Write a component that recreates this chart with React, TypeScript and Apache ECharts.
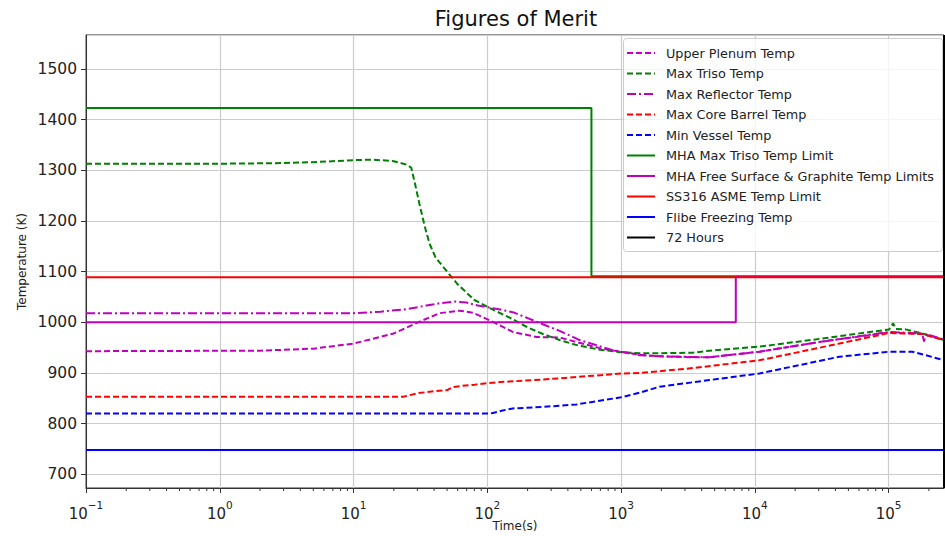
import React, { useEffect, useRef } from "react";
import * as echarts from "echarts";

const T_MIN = 0.1;
const T_MAX = 259200;
const Y_MIN = 673;
const Y_MAX = 1567;

const upperPlenum = [[0.1,943],[2,944],[5,948],[10,958],[20,978],[31,1001],[44,1018],[62,1023],[78,1019],[110,1001],[155,981],[234,971],[347,970],[690,949],[1000,942],[1373,936],[1938,933],[3245,931],[4570,931],[10800,942],[31900,962],[100900,980],[178000,977],[259200,965]];
const maxTriso = [[0.1,1313],[1,1313],[2.5,1314],[5,1316],[10,1320],[14,1321],[20,1318],[25,1311],[27,1305],[29,1270],[31,1235],[34,1190],[37,1155],[41,1128],[50,1100],[60,1075],[80,1044],[110,1025],[150,1008],[200,990],[260,977],[347,965],[466,955],[690,946],[1000,941],[1373,939],[1938,939],[3420,940],[4570,944],[10800,952],[31900,968],[100900,986],[108000,998],[113000,987],[134000,986],[178000,978],[259200,965]];
const maxReflector = [[0.1,1018],[10,1018],[16,1021],[25,1026],[35,1033],[45,1038],[57,1041],[70,1039],[85,1033],[110,1028],[155,1020],[234,1001],[347,983],[490,965],[865,945],[1373,935],[1938,933],[2733,932],[4570,931],[10800,942],[31900,962],[100900,981],[178000,978],[184000,962],[190500,977],[259200,966]];
const maxCoreBarrel = [[0.1,853],[23.5,853],[30,860],[40,864],[50,866],[55,872],[62,874],[81,877],[100,880],[124,882],[260,887],[466,892],[1000,899],[1373,900],[3000,908],[10800,925],[42700,958],[100900,979],[178000,977],[259200,965]];
const minVessel = [[0.1,820],[100,820],[110,821],[130,826],[155,830],[260,833],[466,838],[1000,852],[1373,861],[1938,873],[4570,886],[10800,899],[42700,932],[100900,942],[150000,942],[190500,935],[259200,925]];
const mhaTrisoLimit = [[0.1,1423],[600,1423],[600,1091],[259200,1091]];
const mhaFreeSurfaceLimit = [[0.1,1000],[7200,1000],[7200,1090],[259200,1090]];
const ss316Limit = [[0.1,1089],[259200,1089]];
const flibeFreezing = [[0.1,748],[259200,748]];
const hours72 = [[259200,673],[259200,1567]];

const DECADES = [-1, 0, 1, 2, 3, 4, 5];
const MINOR_MULT = [2, 3, 4, 5, 6, 7, 8, 9];

const FONT = "DejaVu Sans";
const DASHED = [6, 3];
const DASH_DOT = [9, 3, 2, 3];

const SERIES_DEFS: { name: string; data: number[][]; color: string; dash: number[] | null }[] = [
  { name: "Upper Plenum Temp", data: upperPlenum, color: "#bf00bf", dash: DASHED },
  { name: "Max Triso Temp", data: maxTriso, color: "#008000", dash: DASHED },
  { name: "Max Reflector Temp", data: maxReflector, color: "#bf00bf", dash: DASH_DOT },
  { name: "Max Core Barrel Temp", data: maxCoreBarrel, color: "#ff0000", dash: DASHED },
  { name: "Min Vessel Temp", data: minVessel, color: "#0000ff", dash: DASHED },
  { name: "MHA Max Triso Temp Limit", data: mhaTrisoLimit, color: "#008000", dash: null },
  { name: "MHA Free Surface & Graphite Temp Limits", data: mhaFreeSurfaceLimit, color: "#bf00bf", dash: null },
  { name: "SS316 ASME Temp Limit", data: ss316Limit, color: "#ff0000", dash: null },
  { name: "Flibe Freezing Temp", data: flibeFreezing, color: "#0000ff", dash: null },
  { name: "72 Hours", data: hours72, color: "#000000", dash: null },
];

export default function App() {
  const ref = useRef<HTMLDivElement>(null);
  useEffect(() => {
    if (!ref.current) return;
    const chart = echarts.init(ref.current, undefined, { renderer: "svg" });
    const minorTicks: number[][] = [];
    DECADES.forEach((e) => MINOR_MULT.forEach((m) => {
      const v = m * Math.pow(10, e);
      if (v < T_MAX) minorTicks.push([v, Y_MIN]);
    }));

    const legendEls: any[] = [
      { type: "rect", z: 100, shape: { x: 623.5, y: 38.5, width: 319, height: 213, r: 3 }, style: { fill: "rgba(255,255,255,0.8)", stroke: "#cccccc", lineWidth: 1 } },
    ];
    SERIES_DEFS.forEach((s, i) => {
      const cy = 53 + i * 20.5;
      legendEls.push({ type: "line", z: 101, shape: { x1: 627, y1: cy, x2: 655, y2: cy }, style: { stroke: s.color, lineWidth: 2, lineDash: s.dash } });
      legendEls.push({ type: "text", z: 101, x: 666, y: cy, style: { text: s.name, fontFamily: FONT, fontSize: 12.8, fill: "#222", verticalAlign: "middle", align: "left" } });
    });

    chart.setOption({
      animation: false,
      backgroundColor: "#ffffff",
      grid: { left: 86, right: 1, top: 35, bottom: 48, show: true, borderColor: "#333", borderWidth: 1, containLabel: false, outerBoundsMode: "none" },
      graphic: [
        { type: "text", x: 516, y: 19, style: { text: "Figures of Merit", fontFamily: FONT, fontSize: 21, fill: "#111", align: "center", verticalAlign: "middle" } },
        ...legendEls,
      ],
      xAxis: {
        type: "log", logBase: 10, min: T_MIN, max: T_MAX,
        name: "Time(s)", nameLocation: "middle", nameGap: 32, nameMoveOverlap: false,
        nameTextStyle: { fontFamily: FONT, fontSize: 12, color: "#222" },
        axisLine: { show: true, lineStyle: { color: "#333", width: 1 } },
        axisTick: { show: true, inside: false, length: 5, lineStyle: { color: "#333" } },
        splitLine: { show: true, lineStyle: { color: "#cccccc", width: 1.2 } },
        axisLabel: {
          margin: 11, showMaxLabel: false,
          formatter: (v: number) => {
            const l = Math.log10(v);
            const e = Math.round(l);
            if (Math.abs(l - e) > 1e-6) return "";
            return `{b|10}{s|${e < 0 ? "\u2212" + -e : e}}`;
          },
          rich: {
            b: { fontFamily: FONT, fontSize: 15, color: "#222", lineHeight: 22, verticalAlign: "bottom" },
            s: { fontFamily: FONT, fontSize: 10.5, color: "#222", lineHeight: 11, verticalAlign: "top" },
          },
        },
      },
      yAxis: {
        type: "value", min: Y_MIN, max: Y_MAX, splitNumber: 9,
        name: "Temperature (K)", nameLocation: "middle", nameGap: 58, nameMoveOverlap: false,
        nameTextStyle: { fontFamily: FONT, fontSize: 12, color: "#222" },
        axisLine: { show: true, lineStyle: { color: "#333", width: 1 } },
        axisTick: { show: true, inside: false, length: 5, lineStyle: { color: "#333" } },
        splitLine: { show: true, lineStyle: { color: "#cccccc", width: 1.2 } },
        axisLabel: {
          margin: 9, showMinLabel: false, showMaxLabel: false,
          fontFamily: FONT, fontSize: 15.5, color: "#222",
          formatter: (v: number) => (Math.abs(v % 100) < 1e-6 ? String(v) : ""),
        },
      },
      series: [
        ...SERIES_DEFS.map((s) => ({
          type: "line", name: s.name, data: s.data, symbol: "none", animation: false,
          lineStyle: { color: s.color, type: s.dash ? s.dash : "solid", width: 2 },
          itemStyle: { color: s.color },
        })),
        {
          type: "custom", name: "minorTicks", silent: true, clip: false, data: minorTicks,
          renderItem: (params: any, api: any) => {
            const p = api.coord([api.value(0), api.value(1)]);
            return { type: "line", shape: { x1: p[0], y1: p[1], x2: p[0], y2: p[1] + 3 }, style: { stroke: "#333", lineWidth: 1 } };
          },
        },
      ],
    });
    return () => chart.dispose();
  }, []);
  return <div ref={ref} style={{ position: "fixed", left: 0, top: 0, width: 945, height: 536 }} />;
}
